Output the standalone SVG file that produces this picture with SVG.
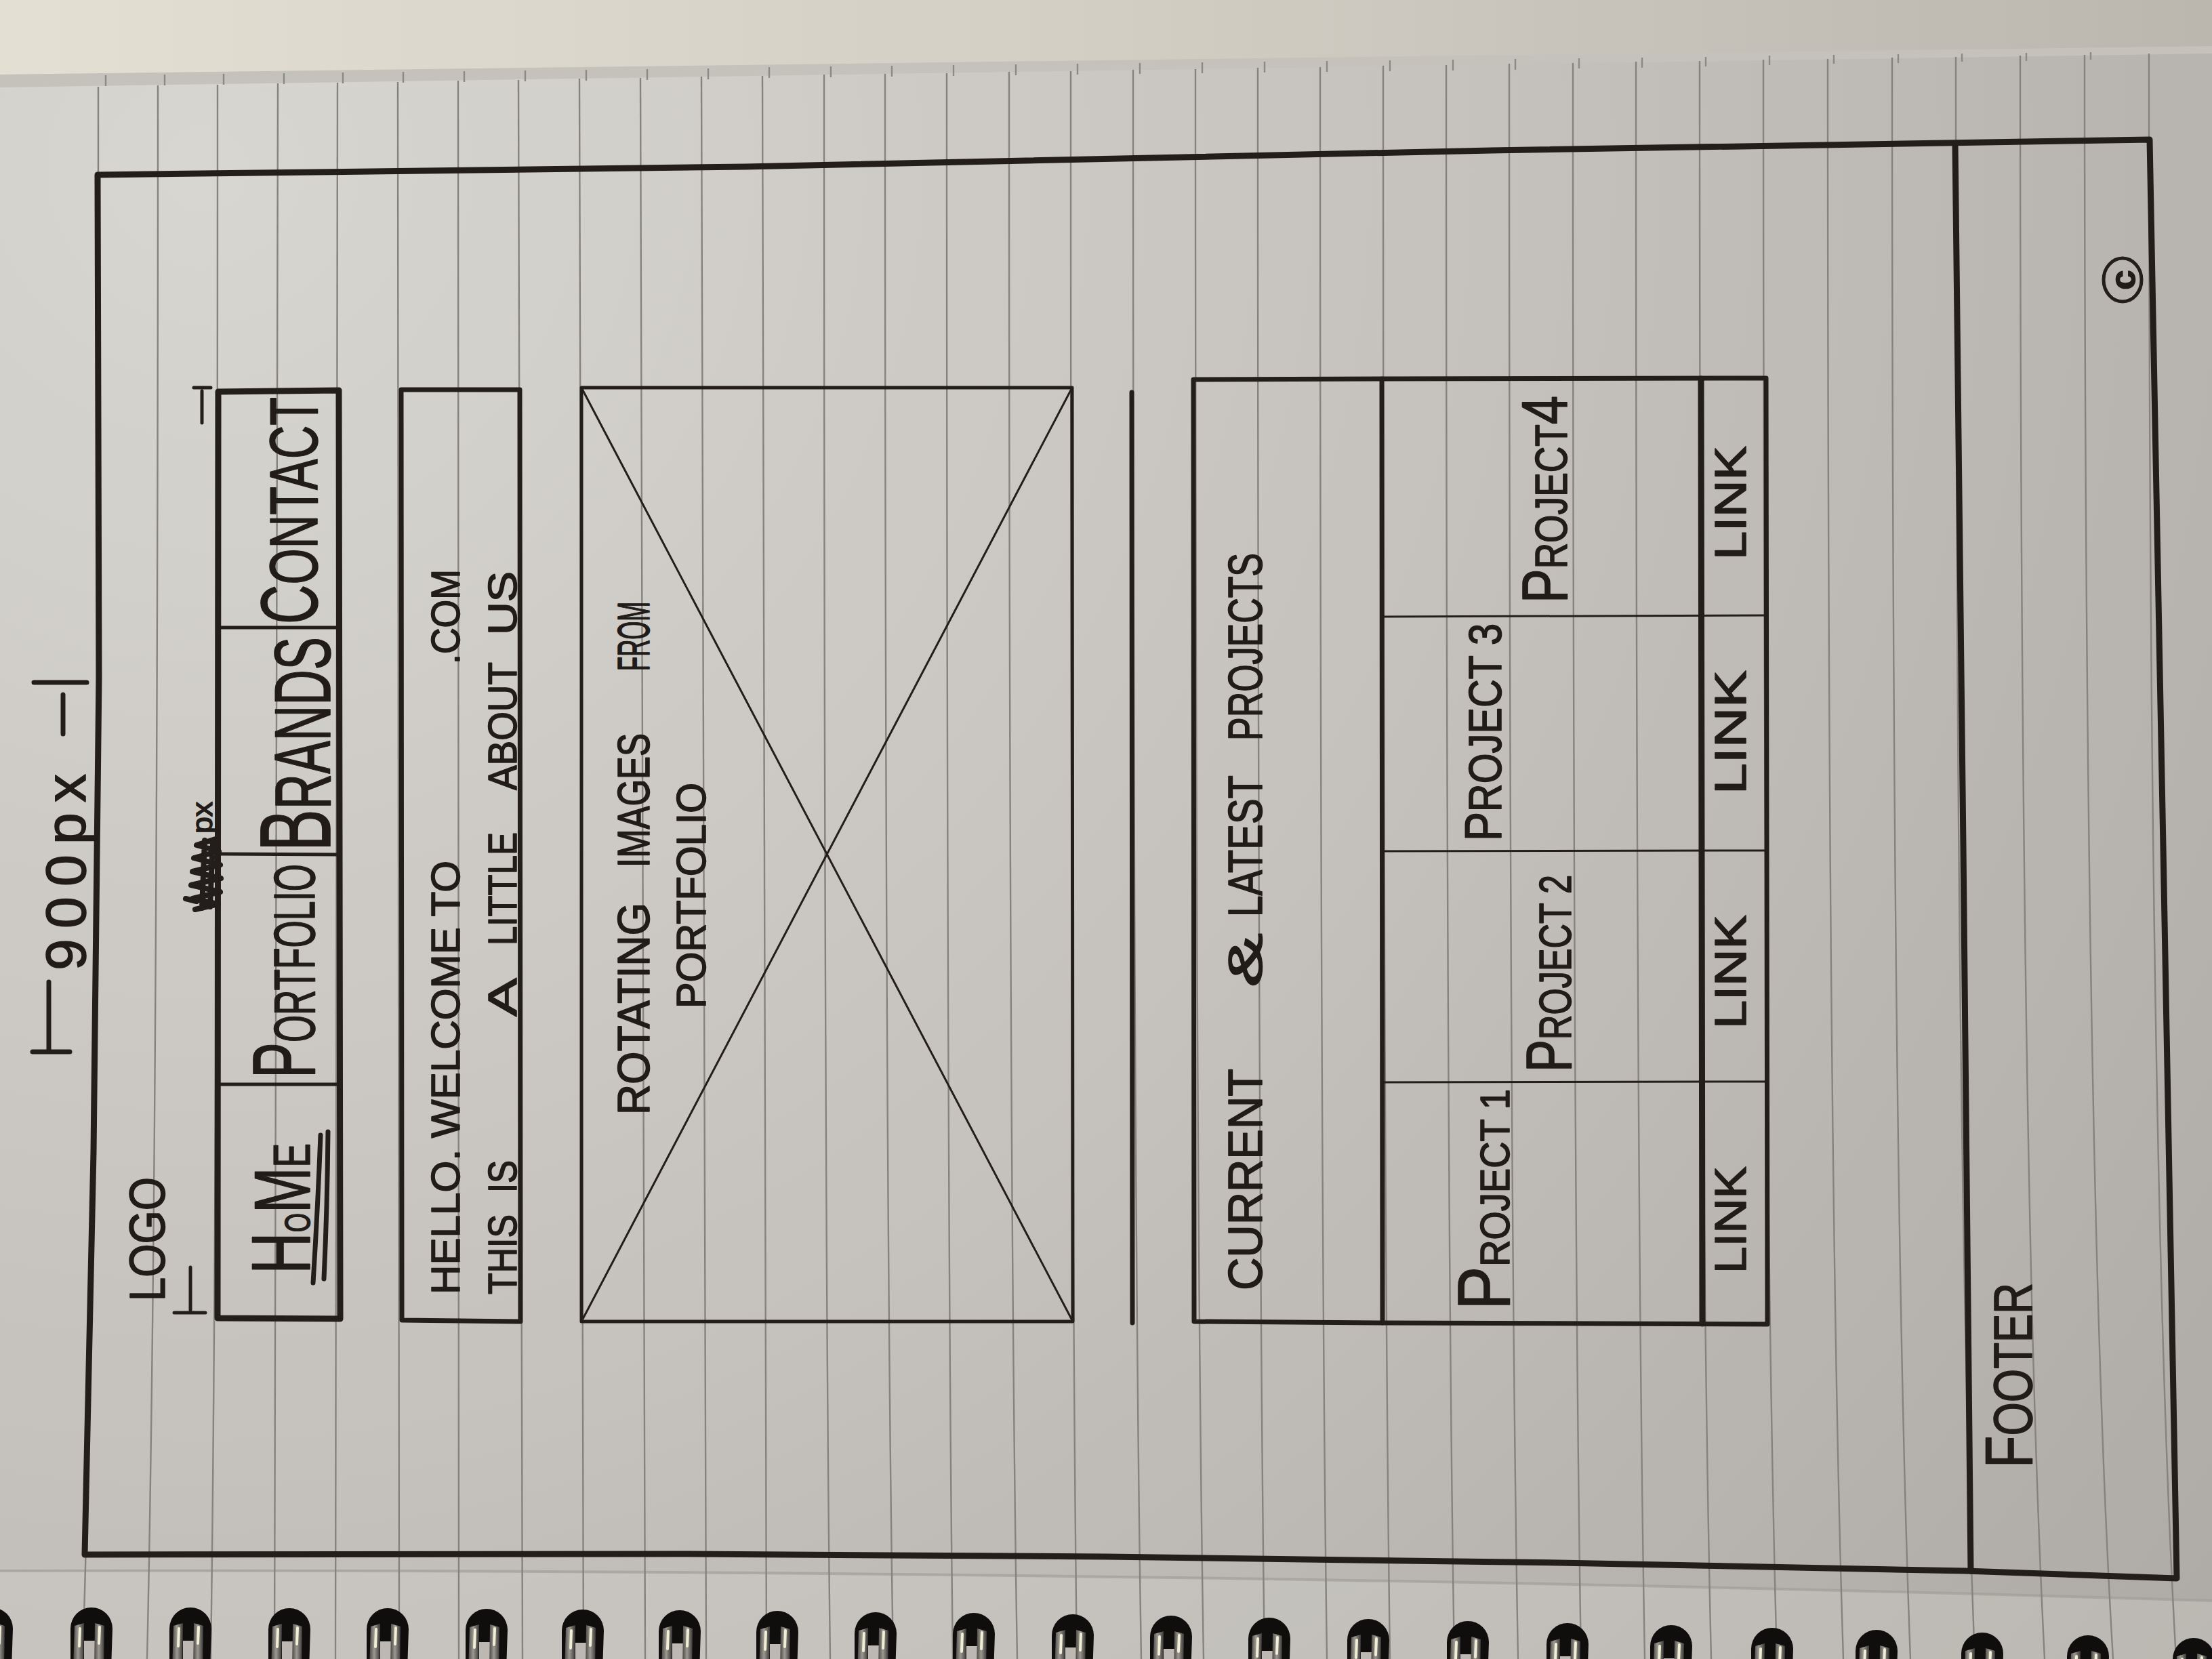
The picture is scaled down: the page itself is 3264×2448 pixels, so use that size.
<svg xmlns="http://www.w3.org/2000/svg" width="3264" height="2448" viewBox="0 0 3264 2448">
  <defs>
    <radialGradient id="paperShade" gradientUnits="userSpaceOnUse" cx="300" cy="250" r="4000">
      <stop offset="0" stop-color="#d8d6d1"/>
      <stop offset="0.45" stop-color="#c6c3bf"/>
      <stop offset="1" stop-color="#aaa7a2"/>
    </radialGradient>
    <linearGradient id="sheetBehind" gradientUnits="userSpaceOnUse" x1="0" y1="0" x2="3264" y2="0">
      <stop offset="0" stop-color="#e4dfd3"/>
      <stop offset="0.5" stop-color="#d3cec4"/>
      <stop offset="1" stop-color="#bbb6ae"/>
    </linearGradient>
    <linearGradient id="wire" x1="0" y1="0" x2="1" y2="0">
      <stop offset="0" stop-color="#4a4744"/>
      <stop offset="0.45" stop-color="#9c9892"/>
      <stop offset="1" stop-color="#3c3a37"/>
    </linearGradient>
    <!-- one binding ring, origin at the top centre of its hole -->
    <g id="ring">
      <path d="M-31,90 L-31,30 A31,31 0 0 1 31,30 L29,90 Z" fill="#0f0e0d"/>
      <rect x="-11" y="48" width="16" height="42" fill="#bdb9b2"/>
      <path d="M-25,26 L-11,22 L-12,90 L-27,90 Z" fill="url(#wire)"/>
      <path d="M5,22 L19,26 L18,90 L4,90 Z" fill="url(#wire)"/>
      <path d="M-17,30 L-18,56" stroke="#f1eed6" stroke-width="4" stroke-linecap="round"/>
      <path d="M12,28 L11,52" stroke="#f1eed6" stroke-width="4" stroke-linecap="round"/>
    </g>
    <style>
      .rule { fill: none; stroke: #86837f; stroke-width: 2.4; }
      .tick { fill: none; stroke: #8d8a85; stroke-width: 2.4; }
      .ink { fill: none; stroke: #231e1b; stroke-linecap: round; stroke-linejoin: round; }
      .w9 { stroke-width: 9; }
      .w7 { stroke-width: 7; }
      .w5 { stroke-width: 5; }
      .w3 { stroke-width: 3; }
      .t { fill: #211c19; stroke: #211c19; stroke-width: 1.6; stroke-linejoin: round; font-family: "Liberation Sans", Arial, sans-serif; }
    </style>
  </defs>

  <!-- paper -->
  <rect width="3264" height="2448" fill="url(#paperShade)"/>
  <polygon points="0,0 3264,0 3264,68 0,110" fill="url(#sheetBehind)"/>
  <polygon points="0,110 3264,68 3264,79 0,129" fill="#c5c2bc"/>
  <path d="M0,2318 Q1700,2314 3264,2362 L3264,2448 L0,2448 Z" fill="#d3d0cb" opacity="0.35"/>
  <path d="M0,2318 Q1700,2314 3264,2362" fill="none" stroke="#a19e99" stroke-width="4" opacity="0.7"/>

  <!-- ruled lines -->
  <g id="ruling">
    <path class="tick" d="M156,111 L156,127 M243,110 L243,126 M330,109 L330,125 M419,108 L419,124 M506,107 L506,123 M595,106 L595,122 M685,105 L685,121 M775,104 L775,120 M865,103 L865,119 M955,102 L955,118 M1045,101 L1045,117 M1135,99 L1135,115 M1226,98 L1226,114 M1316,97 L1316,113 M1407,96 L1407,112 M1499,95 L1499,111 M1590,94 L1590,110 M1682,93 L1682,109 M1774,92 L1774,108 M1866,91 L1866,107 M1958,90 L1958,106 M2051,89 L2051,105 M2144,88 L2144,104 M2236,87 L2236,103 M2330,86 L2330,101 M2423,85 L2423,100 M2517,84 L2517,98 M2611,82 L2611,96 M2706,81 L2706,94 M2801,80 L2801,93 M2895,79 L2895,91 M2990,78 L2990,90 M3085,77 L3085,88"/>
    <path class="rule" d="M145,128 Q145,1750 122,2448"/>
    <path class="rule" d="M233,126 Q233,1750 217,2448"/>
    <path class="rule" d="M321,125 Q321,1750 311,2448"/>
    <path class="rule" d="M410,123 Q410,1750 405,2448"/>
    <path class="rule" d="M498,122 Q498,1750 495,2448"/>
    <path class="rule" d="M587,121 Q587,1750 589,2448"/>
    <path class="rule" d="M676,119 Q676,1750 677,2448"/>
    <path class="rule" d="M765,118 Q765,1750 771,2448"/>
    <path class="rule" d="M855,116 Q855,1750 861,2448"/>
    <path class="rule" d="M945,115 Q945,1750 952,2448"/>
    <path class="rule" d="M1035,113 Q1035,1750 1042,2448"/>
    <path class="rule" d="M1125,112 Q1125,1750 1131,2448"/>
    <path class="rule" d="M1216,110 Q1216,1750 1225,2448"/>
    <path class="rule" d="M1306,109 Q1306,1750 1318,2448"/>
    <path class="rule" d="M1397,108 Q1397,1750 1406,2448"/>
    <path class="rule" d="M1489,106 Q1489,1750 1501,2448"/>
    <path class="rule" d="M1580,105 Q1580,1750 1589,2448"/>
    <path class="rule" d="M1672,103 Q1672,1750 1684,2448"/>
    <path class="rule" d="M1764,102 Q1764,1750 1776,2448"/>
    <path class="rule" d="M1856,100 Q1856,1750 1866,2448"/>
    <path class="rule" d="M1948,99 Q1948,1750 1958,2448"/>
    <path class="rule" d="M2041,97 Q2041,1750 2051,2448"/>
    <path class="rule" d="M2134,96 Q2134,1750 2146,2448"/>
    <path class="rule" d="M2227,94 Q2227,1750 2240,2448"/>
    <path class="rule" d="M2321,93 Q2321,1750 2333,2448"/>
    <path class="rule" d="M2414,91 Q2414,1750 2427,2448"/>
    <path class="rule" d="M2508,90 Q2508,1750 2525,2448"/>
    <path class="rule" d="M2602,88 Q2602,1750 2622,2448"/>
    <path class="rule" d="M2697,87 Q2697,1750 2720,2448"/>
    <path class="rule" d="M2792,85 Q2792,1750 2819,2448"/>
    <path class="rule" d="M2886,84 Q2886,1750 2914,2448"/>
    <path class="rule" d="M2981,82 Q2981,1750 3017,2448"/>
    <path class="rule" d="M3076,81 Q3076,1750 3118,2448"/>
    <path class="rule" d="M3171,79 Q3171,1750 3211,2448"/>
  </g>

  <!-- spiral binding -->
  <g id="binding">
    <use href="#ring" transform="translate(-12,2373)"/>
    <use href="#ring" transform="translate(135,2373)"/>
    <use href="#ring" transform="translate(281,2373)"/>
    <use href="#ring" transform="translate(427,2374)"/>
    <use href="#ring" transform="translate(572,2374)"/>
    <use href="#ring" transform="translate(718,2375)"/>
    <use href="#ring" transform="translate(860,2376)"/>
    <use href="#ring" transform="translate(1003,2377)"/>
    <use href="#ring" transform="translate(1147,2378)"/>
    <use href="#ring" transform="translate(1292,2380)"/>
    <use href="#ring" transform="translate(1437,2381)"/>
    <use href="#ring" transform="translate(1583,2383)"/>
    <use href="#ring" transform="translate(1728,2385)"/>
    <use href="#ring" transform="translate(1873,2388)"/>
    <use href="#ring" transform="translate(2019,2390)"/>
    <use href="#ring" transform="translate(2166,2393)"/>
    <use href="#ring" transform="translate(2313,2396)"/>
    <use href="#ring" transform="translate(2466,2399)"/>
    <use href="#ring" transform="translate(2615,2403)"/>
    <use href="#ring" transform="translate(2769,2406)"/>
    <use href="#ring" transform="translate(2925,2410)"/>
    <use href="#ring" transform="translate(3081,2414)"/>
    <use href="#ring" transform="translate(3237,2418)"/>
  </g>

  <!-- page frame -->
  <g id="page-frame">
    <path class="ink w9" d="M144,258 L1100,246 L2200,222 L3172,206 L3192,1250 L3212,2329 L2900,2318 L2300,2306 L1632,2297 L1000,2293 L125,2294 L138,1700 L146,1000 Z"/>
  </g>

  <g id="width-note">
    <path class="ink w7" d="M50,1007 L128,1007 M93,1025 L93,1083 M72,1449 L72,1552 M48,1552 L103,1552"/>
    <text class="t" transform="rotate(-90)" x="-1432" y="126" font-size="84" stroke-width="0.8" textLength="290" lengthAdjust="spacing">900px</text>
  </g>

  <g id="logo">
    <text class="t" transform="rotate(-90)" x="-1920" y="243" font-size="74" textLength="183" lengthAdjust="spacingAndGlyphs">LOGO</text>
    <path class="ink w5" d="M281,1870 L281,1933 M257,1937 L303,1937 M286,572 L311,572 M298,577 L298,624"/>
  </g>

  <g id="nav">
    <path class="ink w9" d="M322,578 L500,576 L502,1946 L321,1945 Z"/>
    <path class="ink w5" d="M322,1600 L501,1600 M322,1260 L501,1261 M322,926 L500,926"/>
    <text class="t" transform="rotate(-90)" x="-1880" y="457" textLength="193" lengthAdjust="spacingAndGlyphs"><tspan font-size="122">H</tspan><tspan font-size="52">O</tspan><tspan font-size="116">M</tspan><tspan font-size="76">E</tspan></text>
    <path class="ink w7" d="M473,1675 Q469,1780 462,1893 M484,1670 Q483,1780 478,1887"/>
    <text class="t" transform="rotate(-90)" x="-1591" y="464" textLength="316" lengthAdjust="spacingAndGlyphs"><tspan font-size="132">P</tspan><tspan font-size="86">ORTFOLIO</tspan></text>
    <text class="t" transform="rotate(-90)" x="-1256" y="487" textLength="316" lengthAdjust="spacingAndGlyphs"><tspan font-size="148">B</tspan><tspan font-size="116">RANDS</tspan></text>
    <text class="t" transform="rotate(-90)" x="-921" y="468" textLength="335" lengthAdjust="spacingAndGlyphs"><tspan font-size="118">C</tspan><tspan font-size="100">ONTACT</tspan></text>
    <!-- crossed-out figure before "px" -->
    <path class="ink" stroke-width="8" d="M288,1342 L322,1334 L284,1326 L325,1316 L282,1306 L326,1296 L284,1286 L325,1276 L286,1266 L323,1256 L290,1247 L318,1238 M298,1340 L302,1240 M310,1338 L314,1242 M274,1326 L290,1330"/>
    <text class="t" transform="rotate(-90)" x="-1230" y="313" font-size="42" textLength="47" lengthAdjust="spacingAndGlyphs">px</text>
  </g>

  <g id="welcome">
    <path class="ink w7" d="M592,575 L767,575 L768,1950 L593,1948 Z"/>
    <text class="t" transform="rotate(-90)" x="-1910" y="678" font-size="60" textLength="640" lengthAdjust="spacingAndGlyphs">HELLO. WELCOME TO</text>
    <text class="t" transform="rotate(-90)" x="-980" y="678" font-size="60" textLength="140" lengthAdjust="spacingAndGlyphs">.COM</text>
    <text class="t" transform="rotate(-90)" y="762" font-size="60">
      <tspan x="-1910" textLength="118" lengthAdjust="spacingAndGlyphs">THIS</tspan>
      <tspan x="-1760" textLength="48" lengthAdjust="spacingAndGlyphs">IS</tspan>
      <tspan x="-1500" textLength="52" lengthAdjust="spacingAndGlyphs">A</tspan>
      <tspan x="-1395" textLength="167" lengthAdjust="spacingAndGlyphs">LITTLE</tspan>
      <tspan x="-1166" textLength="188" lengthAdjust="spacingAndGlyphs">ABOUT</tspan>
      <tspan x="-937" textLength="94" lengthAdjust="spacingAndGlyphs">US</tspan>
    </text>
  </g>

  <g id="image-rotator">
    <path class="ink w5" d="M858,572 L1582,572 L1583,1950 L858,1950 Z"/>
    <path class="ink w3" d="M858,572 L1583,1950 M858,1950 L1582,572"/>
    <text class="t" transform="rotate(-90)" y="958" font-size="66">
      <tspan x="-1645" textLength="313" lengthAdjust="spacingAndGlyphs">ROTATING</tspan>
      <tspan x="-1280" textLength="198" lengthAdjust="spacingAndGlyphs">IMAGES</tspan>
      <tspan x="-990" textLength="102" lengthAdjust="spacingAndGlyphs">FROM</tspan>
    </text>
    <text class="t" transform="rotate(-90)" x="-1488" y="1041" font-size="62" textLength="333" lengthAdjust="spacingAndGlyphs">PORTFOLIO</text>
  </g>

  <g id="divider">
    <path class="ink w7" d="M1670,579 L1671,1952"/>
  </g>

  <g id="projects-heading">
    <path class="ink w7" d="M1761,560 L2039,559 L2040,1952 L1762,1950 Z"/>
    <text class="t" transform="rotate(-90)" y="1862" font-size="70">
      <tspan x="-1904" textLength="326" lengthAdjust="spacingAndGlyphs">CURRENT</tspan>
      <tspan x="-1457" textLength="80" lengthAdjust="spacingAndGlyphs">&amp;</tspan>
      <tspan x="-1353" textLength="208" lengthAdjust="spacingAndGlyphs">LATEST</tspan>
      <tspan x="-1093" textLength="277" lengthAdjust="spacingAndGlyphs">PROJECTS</tspan>
    </text>
  </g>

  <g id="projects-grid">
    <path class="ink w7" d="M2039,559 L2606,558 L2608,1954 L2040,1952"/>
    <path class="ink w9" d="M2510,559 L2512,1953"/>
    <path class="ink w3" d="M2039,910 L2607,908 M2039,1256 L2607,1255 M2039,1597 L2607,1596"/>
    <text class="t" transform="rotate(-90)" x="-1933" y="2227" textLength="326" lengthAdjust="spacingAndGlyphs"><tspan font-size="110">P</tspan><tspan font-size="62">ROJECT 1</tspan></text>
    <text class="t" transform="rotate(-90)" x="-1582" y="2318" textLength="291" lengthAdjust="spacingAndGlyphs"><tspan font-size="94">P</tspan><tspan font-size="66">ROJECT 2</tspan></text>
    <text class="t" transform="rotate(-90)" x="-1241" y="2215" textLength="321" lengthAdjust="spacingAndGlyphs"><tspan font-size="76">P</tspan><tspan font-size="68">ROJECT 3</tspan></text>
    <text class="t" transform="rotate(-90)" x="-890" y="2312" textLength="306" lengthAdjust="spacingAndGlyphs"><tspan font-size="94">P</tspan><tspan font-size="66">ROJECT</tspan><tspan font-size="94">4</tspan></text>
    <text class="t" transform="rotate(-90)" y="2576" font-size="64">
      <tspan x="-1879" textLength="158" lengthAdjust="spacingAndGlyphs">LINK</tspan>
      <tspan x="-1518" textLength="168" lengthAdjust="spacingAndGlyphs">LINK</tspan>
      <tspan x="-1172" textLength="183" lengthAdjust="spacingAndGlyphs">LINK</tspan>
      <tspan x="-826" textLength="168" lengthAdjust="spacingAndGlyphs">LINK</tspan>
    </text>
  </g>

  <g id="footer">
    <path class="ink w9" d="M2885,212 L2897,1250 L2908,2318"/>
    <text class="t" transform="rotate(-90)" x="-2166" y="2998" textLength="273" lengthAdjust="spacingAndGlyphs"><tspan font-size="98">F</tspan><tspan font-size="80">OOTER</tspan></text>
    <ellipse class="ink w5" cx="3132" cy="413" rx="28" ry="32"/>
    <text class="t" transform="rotate(-90)" x="-413" y="3150" font-size="52" text-anchor="middle" font-weight="bold">c</text>
  </g>
</svg>
